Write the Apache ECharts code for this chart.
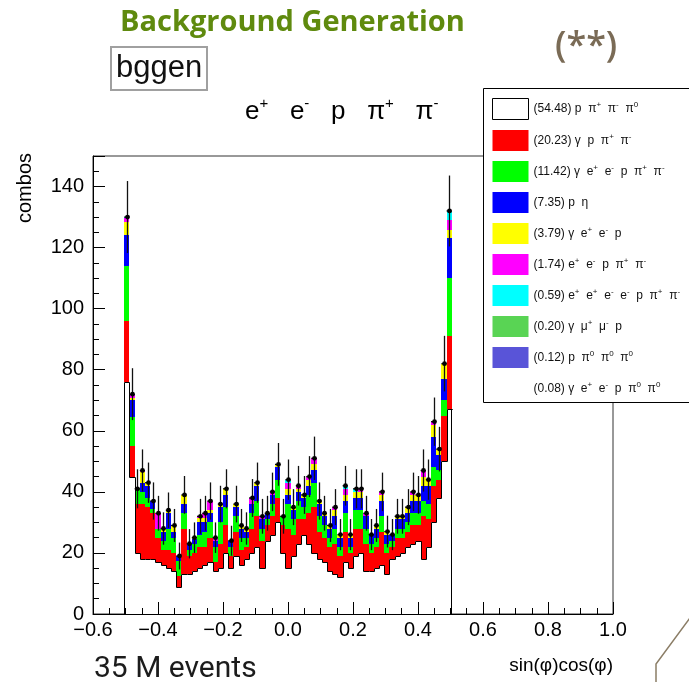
<!DOCTYPE html>
<html>
<head>
<meta charset="utf-8">
<script src="https://cdn.jsdelivr.net/npm/echarts@6.0.0/dist/echarts.min.js"></script>
<style>
  html, body { margin: 0; padding: 0; background: #ffffff; }
  #chart { width: 689px; height: 682px; }
</style>
</head>
<body>
<div id="chart"></div>
<script>
// ---- histogram definition (bin centres, width 0.016) ----
const BIN_CENTERS = [-0.496,-0.480,-0.464,-0.448,-0.432,-0.416,-0.400,-0.384,-0.368,-0.352,
  -0.336,-0.320,-0.304,-0.288,-0.272,-0.256,-0.240,-0.224,-0.208,-0.192,
  -0.176,-0.160,-0.144,-0.128,-0.112,-0.096,-0.080,-0.064,-0.048,-0.032,
  -0.016,0.000,0.016,0.032,0.048,0.064,0.080,0.096,0.112,0.128,
  0.144,0.160,0.176,0.192,0.208,0.224,0.240,0.256,0.272,0.288,
  0.304,0.320,0.336,0.352,0.368,0.384,0.400,0.416,0.432,0.448,
  0.464,0.480,0.496];
const BIN_WIDTH = 0.016;

// ---- stacked components (bottom to top) ----
const WHITE = [76,45,20,18,18,18,17,16,15,14, 9,13,13,14,15,16,17,14,15,20, 15,19,16,18,20,22,15,24,26,30,
  20,15,19,23,26,23,20,18,17,14, 13,12,17,15,19,20,14,14,15,16, 13,18,19,20,22,23,24,18,22,30, 38,50,67];
const RED = [20,10,16,18,17,15,8,5,6,6, 3.5,15,6,6,7,6,8,3,8,9, 4,8,5,4,8,10,9,5,6,8,
  9,13,7,8,5,10,15,9,8,8, 10,7,10,5,9,8,9,6,7,11, 7,4,6,5,5,6,5,14,9,12, 6,15,24];
const GREEN = [18,9.5,5,4,3,1.5,3,3,7,5, 5,5,2,3,4,5,5,5,7,6, 3,5,4,3,5,5,4,2,4,6,
  3,8,5,6,4,6,8,5,4,3, 5,3,6,2,6,6,5,3,3,5, 3,2,3,3,3,4,4,5,5,6, 3,5,19];
const BLUE = [10,5.5,0,3,4,2.5,0,3,5,2, 1.5,3,2,1.5,4,3,3,2,5,4, 2,3,3,2,3,5,3,2,3,4,
  0,3,3,3,3,3,4,4,3,3, 4,3,4,3,4,4,4,3,3,5, 3,2,3,3,3,4,4,5,6,10, 5,7,13];
const YELLOW = [4.3,0.6,0,3.5,1,0,0,1,1,2, 0,3,0,0.5,1.5,1.5,1,0,1,2, 0,1,1,1,0,1,0,0,0,1,
  0,2,1,1,1,2,2,1,1,1, 2,1,2,1,2,2,0,0,1,2, 1,0,1,1,2,2,2,3,2,4, 2,5,2.8];
const MAGENTA = [1.4,1.2,0,0.5,0,0,5,0,0,0, 0,0,0,0,0.5,1.5,3,1,0,0, 0,0,0,0,2,0,1,0,1,0,
  0,2,0,1,0,1,2,0,0,0, 1,0,2,0,0,1,1,0,0,1, 0,0,0,0,0,1,0,2,0,1, 0,0,3.2];
const CYAN = [0.3,0.2,0,0,0,0,0,0,0,0, 0,0,0,0,0,0,0,0,0,0, 0,0,0,0,0,0,0,0,0,0,
  0,1,0,0,0,0,0,0,0,0, 0,0,1,0,1,0,0,0,0,0, 0,0,0,0,0,0,0,0,0,0, 0,0,3];
const LGREEN = [0,0,0,0,0,0,0,0,0,0, 0,0,0,0,0,0,0,0,0,0, 0,0,0,0,0,0,0,0,0,0,
  0,0,0,0,0,0,0,0,0,0, 0,0,0,0,0,0,0,0,0,0, 0,0,0,0,0,0,0,0,0,0, 0,0,0];
const SLATE = [0,0,0,0,0,0,0,0,0,0, 0,0,0,0,0,0,0,0,0,0, 0,0,0,0,0,0,0,0,0,0,
  0,0,0,0,0,0,0,0,0,0, 0,0,0,0,0,0,0,0,0,0, 0,0,0,0,0,0,0,0,0,0, 0,0,0];
const LAST = [0,0,0,0,0,0,0,0,0,0, 0,0,0,0,0,0,0,0,0,0, 0,0,0,0,0,0,0,0,0,0,
  0,0,0,0,0,0,0,0,0,0, 0,0,0,0,0,0,0,0,0,0, 0,0,0,0,0,0,0,0,0,0, 0,0,0];

// ---- points with error bars ----
const POINTS = [130,72,41,47,43,37,33,28,34,29, 19,39,23,25,32,33,37,25,36,41, 24,36,29,28,38,43,32,33,40,49,
  32,44,35,42,39,45,51,37,33,29, 35,26,42,26,41,41,33,26,29,40, 27,26,32,32,35,40,39,47,44,63, 54,82,132];
const ERRORS = [11.8,8.5,6.4,6.9,6.6,6.1,5.7,5.3,5.8,5.4, 4.4,6.2,4.8,5.0,5.7,5.7,6.1,5.0,6.0,6.4,
  4.9,6.0,5.4,5.3,6.2,6.6,5.7,5.7,6.3,7.0, 5.7,6.6,5.9,6.5,6.2,6.7,7.1,6.1,5.7,5.4,
  5.9,5.1,6.5,5.1,6.4,6.4,5.7,5.1,5.4,6.3, 5.2,5.1,5.7,5.7,5.9,6.3,6.2,6.9,6.6,7.9, 7.3,9.1,11.6];

const LEGEND_LABELS = [
  '(54.48) p  π{u|+}  π{u|-}  π{u|0}',
  '(20.23) γ  p  π{u|+}  π{u|-}',
  '(11.42) γ  e{u|+}  e{u|-}  p  π{u|+}  π{u|-}',
  '(7.35) p  η',
  '(3.79) γ  e{u|+}  e{u|-}  p',
  '(1.74) e{u|+}  e{u|-}  p  π{u|+}  π{u|-}',
  '(0.59) e{u|+}  e{u|+}  e{u|-}  e{u|-}  p  π{u|+}  π{u|-}',
  '(0.20) γ  μ{u|+}  μ{u|-}  p',
  '(0.12) p  π{u|0}  π{u|0}  π{u|0}',
  '(0.08) γ  e{u|+}  e{u|-}  p  π{u|0}  π{u|0}'
];
const X_TICKS = { min: -0.6, max: 1.0, interval: 0.2 };
const Y_TICKS = { min: 0, max: 150, interval: 20 };

const COMPONENTS = [WHITE, RED, GREEN, BLUE, YELLOW, MAGENTA, CYAN, LGREEN, SLATE, LAST];
const COLORS = ['#ffffff','#ff0000','#00ff00','#0000ff','#ffff00','#ff00ff','#00ffff','#59d454','#5954d8','#ffffff'];
const HALF = BIN_WIDTH / 2;
const FONT = 'Liberation Sans, Arial, sans-serif';

function rectRender(color) {
  return function (params, api) {
    const x = api.value(0), lo = api.value(1), hi = api.value(2);
    if (!(hi > lo)) return null;
    const a = api.coord([x - HALF, lo]);
    const b = api.coord([x + HALF, hi]);
    const x0 = Math.round(a[0]), x1 = Math.round(b[0]);
    const y0 = Math.round(a[1]), y1 = Math.round(b[1]);
    if (y0 - y1 <= 0) return null;
    return { type: 'rect', shape: { x: x0, y: y1, width: x1 - x0, height: y0 - y1 }, style: { fill: color } };
  };
}

const cum = BIN_CENTERS.map(() => 0);
const series = COMPONENTS.map((comp, i) => {
  const data = BIN_CENTERS.map((x, k) => {
    const lo = cum[k]; const hi = lo + comp[k]; cum[k] = hi; return [x, lo, hi];
  });
  return {
    type: 'custom', name: LEGEND_LABELS[i], renderItem: rectRender(COLORS[i]),
    data: data, encode: { x: 0, y: [1, 2] }, itemStyle: { color: COLORS[i] }, z: 2, silent: true
  };
});

// outline of the bottom (white) histogram
const outlineData = BIN_CENTERS.map((x, k) => [x, k === 0 ? 0 : WHITE[k - 1], WHITE[k], k === BIN_CENTERS.length - 1 ? 1 : 0]);
series.push({
  type: 'custom', name: 'outline', silent: true, z: 3, data: outlineData, encode: { x: 0, y: 2 },
  renderItem: function (params, api) {
    const x = api.value(0), prev = api.value(1), w = api.value(2), last = api.value(3);
    const a = api.coord([x - HALF, prev]);
    const b = api.coord([x - HALF, w]);
    const c = api.coord([x + HALF, w]);
    const z0 = api.coord([x + HALF, 0]);
    const xl = Math.round(a[0]) + 0.5, xr = Math.round(c[0]) + 0.5;
    const ya = Math.round(a[1]) + 0.5, yb = Math.round(b[1]) + 0.5, yz = Math.round(z0[1]) + 0.5;
    const pts = [[xl, ya], [xl, yb], [xr, yb]];
    if (last) pts.push([xr - 1, yb], [xr - 1, yz]);
    return { type: 'polyline', shape: { points: pts }, style: { stroke: '#000', lineWidth: 1, fill: null } };
  }
});

// data points with error bars
const pointData = BIN_CENTERS.map((x, k) => [x, POINTS[k], ERRORS[k]]);
series.push({
  type: 'custom', name: 'points', silent: true, z: 4, data: pointData, encode: { x: 0, y: 1 },
  renderItem: function (params, api) {
    const x = api.value(0), v = api.value(1), e = api.value(2);
    const c = api.coord([x, v]);
    const top = api.coord([x, v + e]);
    const bot = api.coord([x, v - e]);
    const l = api.coord([x - HALF, v]);
    const r = api.coord([x + HALF, v]);
    const cx = Math.round(c[0]) + 0.5;
    return {
      type: 'group', children: [
        { type: 'line', shape: { x1: cx, y1: top[1], x2: cx, y2: bot[1] }, style: { stroke: '#111', lineWidth: 1.3 } },
        { type: 'line', shape: { x1: l[0], y1: c[1], x2: r[0], y2: c[1] }, style: { stroke: '#111', lineWidth: 1.3 } },
        { type: 'circle', shape: { cx: cx, cy: c[1], r: 2.4 }, style: { fill: '#000' } }
      ]
    };
  }
});

const chart = echarts.init(document.getElementById('chart'), null, { renderer: 'canvas' });
chart.setOption({
  animation: false,
  backgroundColor: '#ffffff',
  title: [
    { text: 'Background Generation', left: 120, top: 8, padding: 0,
      textStyle: { fontFamily: 'Open Sans', fontWeight: 'bold', fontSize: 29, color: '#5f8a0e' } },
    { text: '(**)', left: 555, top: 29, padding: 0,
      textStyle: { fontFamily: 'Open Sans', fontWeight: 600, fontSize: 36, color: '#7a6b56' } },
    { text: 'bggen', left: 111, top: 47, padding: [4, 5, 4, 5], borderColor: '#a0a0a0', borderWidth: 2,
      textStyle: { fontFamily: FONT, fontWeight: 'normal', fontSize: 31, lineHeight: 35, color: '#111' } },
    { text: 'e{u|+}   e{u|-}   p   π{u|+}   π{u|-}', left: 245, top: 96, padding: 0,
      textStyle: { fontFamily: FONT, fontWeight: 'normal', fontSize: 26, lineHeight: 32, color: '#000',
        rich: { u: { fontFamily: FONT, fontSize: 15, lineHeight: 16, verticalAlign: 'top', color: '#000' } } } },
    { text: '35 M events', left: 94, top: 654, padding: 0,
      textStyle: { fontFamily: 'Roboto', fontWeight: 'normal', fontSize: 30, color: '#1c1c1c' } }
  ],
  grid: { left: 93, top: 156, width: 520, height: 458, show: true, borderColor: '#333', borderWidth: 1, backgroundColor: 'transparent' },
  xAxis: {
    type: 'value', min: X_TICKS.min, max: X_TICKS.max, interval: X_TICKS.interval, z: 5,
    name: 'sin(φ)cos(φ)', nameLocation: 'end', nameGap: 0,
    nameTextStyle: { fontFamily: FONT, fontSize: 19, color: '#000', align: 'right', verticalAlign: 'top', padding: [42, 0, 0, 0] },
    axisLine: { show: true, onZero: false, lineStyle: { color: '#000', width: 1 } },
    axisTick: { show: true, inside: true, length: 12, lineStyle: { color: '#000' } },
    minorTick: { show: true, splitNumber: 4, length: 6, lineStyle: { color: '#000' } },
    splitLine: { show: false },
    axisLabel: { fontFamily: FONT, fontSize: 20, color: '#000', margin: 6,
      formatter: v => (v < -1e-9 ? '\u2212' : '') + Math.abs(v).toFixed(1) }
  },
  yAxis: {
    type: 'value', min: Y_TICKS.min, max: Y_TICKS.max, interval: Y_TICKS.interval, z: 5,
    name: 'combos', nameLocation: 'end', nameRotate: 90, nameGap: 3,
    nameTextStyle: { fontFamily: FONT, fontSize: 20, color: '#000', align: 'right', verticalAlign: 'bottom', padding: [0, 0, 58, 0] },
    axisLine: { show: true, onZero: false, lineStyle: { color: '#000', width: 1 } },
    axisTick: { show: true, inside: true, length: 12, lineStyle: { color: '#000' } },
    minorTick: { show: true, splitNumber: 4, length: 6, lineStyle: { color: '#000' } },
    splitLine: { show: false },
    axisLabel: { fontFamily: FONT, fontSize: 20, color: '#000', margin: 9, showMaxLabel: false }
  },
  legend: {
    data: LEGEND_LABELS.map((n, i) => i === 0
      ? { name: n, itemStyle: { color: '#ffffff', borderColor: '#000', borderWidth: 1 } }
      : { name: n }),
    orient: 'vertical', left: 492, top: 98, padding: 0,
    itemWidth: 36, itemHeight: 21, itemGap: 10, icon: 'rect', selectedMode: false, z: 10,
    textStyle: { fontFamily: FONT, fontSize: 12, color: '#111', lineHeight: 16,
      rich: { u: { fontFamily: FONT, fontSize: 8, lineHeight: 8, verticalAlign: 'top', color: '#111' } } }
  },
  graphic: [
    { type: 'rect', z: 8, shape: { x: 483.5, y: 88.5, width: 230, height: 314 },
      style: { fill: '#ffffff', stroke: '#000', lineWidth: 1 } },
    { type: 'polyline', z: 8, shape: { points: [[690, 618], [656, 664], [656, 683]] },
      style: { stroke: '#8b7d66', lineWidth: 1.5, fill: null } }
  ],
  series: series
});
</script>
</body>
</html>
